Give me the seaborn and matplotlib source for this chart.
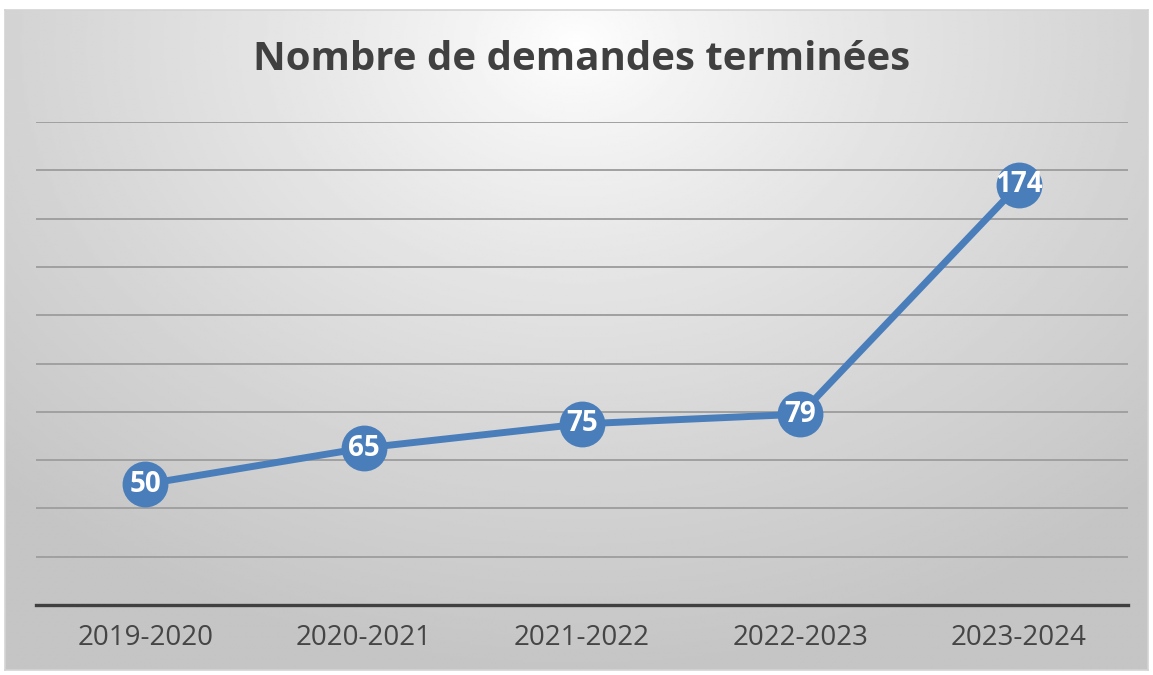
import matplotlib
matplotlib.use("Agg")

import matplotlib.pyplot as plt
import numpy as np
import pandas as pd
import seaborn as sns

seasons = ["2019-2020", "2020-2021", "2021-2022", "2022-2023", "2023-2024"]
completed = [50, 65, 75, 79, 174]
title = "Nombre de demandes terminées"

LINE_BLUE = "#4a7ebb"
W, H = 1153, 675

sns.set_theme(style="white")
plt.rcParams["font.family"] = ["Open Sans", "DejaVu Sans"]

fig = plt.figure(figsize=(W / 100, H / 100), dpi=100)
fig.patch.set_facecolor("white")

# chart area with soft radial gray gradient
bg = fig.add_axes([5 / W, 1 - 670 / H, 1143 / W, 660 / H])
yy, xx = np.mgrid[0:1:300j, 0:1:500j]
dist = np.sqrt((xx - 0.5) ** 2 + ((yy - 0.05) * 0.75) ** 2)
shade = 1.0 - 0.23 * np.clip(dist / 0.72, 0, 1) ** 0.8
bg.imshow(shade, cmap="gray", vmin=0, vmax=1, aspect="auto", extent=(0, 1, 1, 0))
bg.set_xticks([])
bg.set_yticks([])
for s in bg.spines.values():
    s.set_color("#d4d4d4")
    s.set_linewidth(1.2)

# plot area
ax = fig.add_axes([36 / W, 1 - 605 / H, 1092 / W, 483 / H])
ax.patch.set_alpha(0)

df = pd.DataFrame({"season": seasons, "completed": completed})
sns.lineplot(data=df, x="season", y="completed", ax=ax, color=LINE_BLUE,
             linewidth=5, marker="o", markersize=33, markeredgewidth=0,
             sort=False, zorder=3)

for i, v in enumerate(completed):
    ax.text(i, v, str(v), ha="center", va="center", color="white",
            fontsize=20, fontweight="bold", zorder=4)

ax.set_xlim(-0.5, len(seasons) - 0.5)
ax.set_ylim(0, 200)
ax.set_yticks(np.arange(0, 201, 20))
ax.set_yticklabels([])
ax.tick_params(axis="y", length=0)
ax.tick_params(axis="x", length=0, labelsize=20, labelcolor="#454545", pad=14)
ax.grid(axis="y", color="#a0a0a0", linewidth=1.4)
ax.set_axisbelow(True)
ax.set_xlabel("")
ax.set_ylabel("")
for name, s in ax.spines.items():
    s.set_visible(name == "bottom")
ax.spines["bottom"].set_color("#404040")
ax.spines["bottom"].set_linewidth(2.4)

fig.text(582 / W, 1 - 60 / H, title, ha="center", va="center",
         fontsize=29, fontweight="bold", color="#404040")

fig.savefig("out.png", dpi=100)
